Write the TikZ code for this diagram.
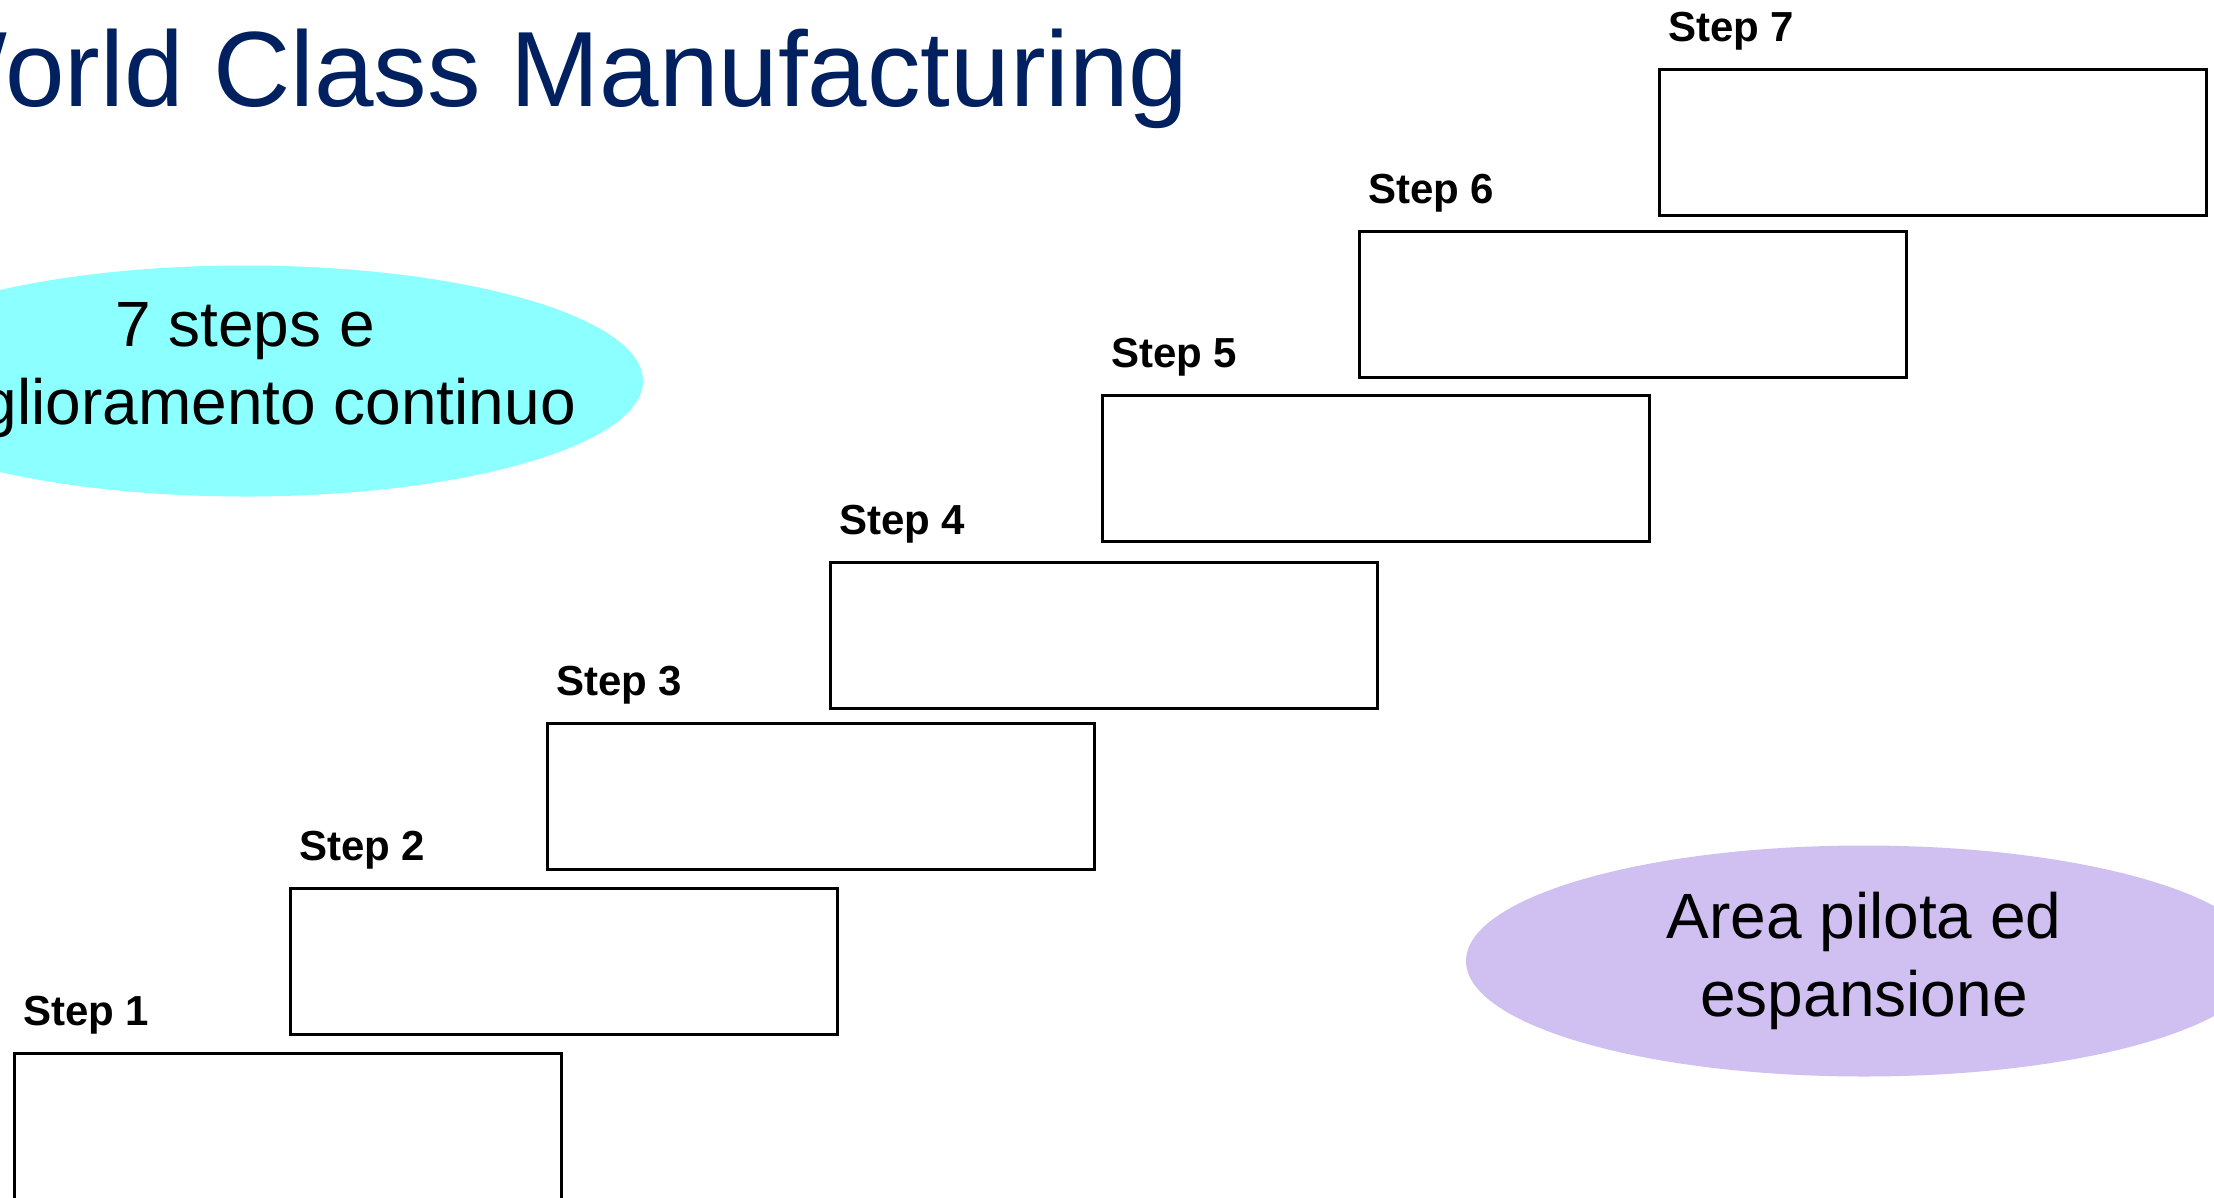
\documentclass[tikz,border=0pt]{standalone}
\usepackage{fontspec}
\setmainfont{Liberation Sans}
\usetikzlibrary{shapes.geometric,positioning}
\definecolor{titleblue}{RGB}{0,32,96}
\definecolor{kaizencyan}{RGB}{140,255,255}
\definecolor{pilotlilac}{RGB}{208,192,242}
\tikzset{
  stepbox/.style={draw=black,line width=3pt,minimum width=547pt,minimum height=146pt,inner sep=0pt,anchor=north west},
  steplabel/.style={font=\fontsize{42}{50}\selectfont\bfseries,inner sep=0pt,anchor=base west},
  oval/.style={ellipse,minimum width=796pt,minimum height=231pt,inner sep=0pt},
  ovaltext/.style={align=center,inner sep=0pt,font=\fontsize{64}{78}\selectfont}
}

\begin{document}
\begin{tikzpicture}[x=1pt,y=-1pt]
    \useasboundingbox (0,0) rectangle (2214,1197);
    \node [anchor=base west,inner sep=0pt,text=titleblue,font=\fontsize{107}{128}\selectfont] (title) at (-94,106)
    {World Class Manufacturing};

    \node [oval,fill=kaizencyan] (kaizen) at (245,381) {};
    \node [ovaltext] (kaizentext) at ([yshift=11pt]kaizen.center) {7 steps e\\miglioramento continuo};
    \node [oval,fill=pilotlilac] (pilot) at (1864,961) {};
    \node [ovaltext] (pilottext) at (pilot.center) {Area pilota ed\\espansione};

    \node [stepbox] (step1) at (13,1052) {};
    \node [stepbox] (step2) at (289,887) {};
    \node [stepbox] (step3) at (546,722) {};
    \node [stepbox] (step4) at (829,561) {};
    \node [stepbox] (step5) at (1101,394) {};
    \node [stepbox] (step6) at (1358,230) {};
    \node [stepbox] (step7) at (1658,68) {};

    \node [steplabel] (lab1) at ([xshift=10pt,yshift=27pt]step1.north west) {Step 1};
    \node [steplabel] (lab2) at ([xshift=10pt,yshift=27pt]step2.north west) {Step 2};
    \node [steplabel] (lab3) at ([xshift=10pt,yshift=27pt]step3.north west) {Step 3};
    \node [steplabel] (lab4) at ([xshift=10pt,yshift=27pt]step4.north west) {Step 4};
    \node [steplabel] (lab5) at ([xshift=10pt,yshift=27pt]step5.north west) {Step 5};
    \node [steplabel] (lab6) at ([xshift=10pt,yshift=27pt]step6.north west) {Step 6};
    \node [steplabel] (lab7) at ([xshift=10pt,yshift=27pt]step7.north west) {Step 7};
\end{tikzpicture}
\end{document}
